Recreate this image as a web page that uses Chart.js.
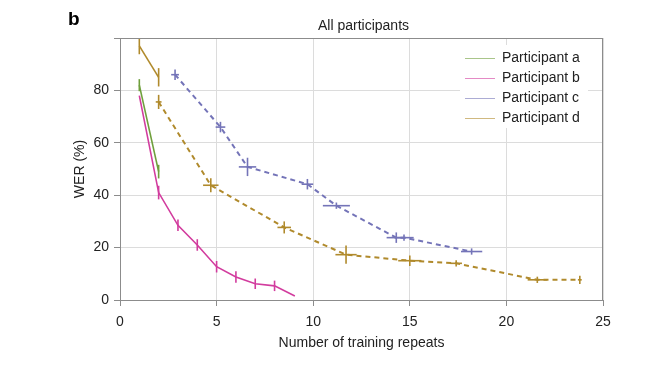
<!DOCTYPE html>
<html>
<head>
<meta charset="utf-8">
<script src="https://cdn.jsdelivr.net/npm/chart.js@4"></script>
<style>
  html, body { margin: 0; padding: 0; background: #fff; }
  #wrap { width: 660px; height: 369px; }
</style>
</head>
<body>
<div id="wrap"><canvas id="myChart" width="660" height="369"></canvas></div>
<script>
// values
const labels = ["Participant a", "Participant b", "Participant c", "Participant d"];

const aX = [1, 2];
const aY = [82, 49];
const aYErr = [2.3, 2.6];

const bX = [1, 2, 3, 4, 5, 6, 7, 8, 9.05];
const bY = [78, 41, 28.5, 21, 12.7, 8.8, 6.2, 5.4, 1.5];
const bYErr = [0, 2.6, 2.2, 2.2, 2.2, 2.2, 2, 2, 0];

const cX = [2.85, 5.2, 6.6, 9.7, 11.2, 14.3, 14.7, 18.2];
const cY = [86, 66, 50.8, 44.2, 36, 23.8, 23.8, 18.5];
const cXErr = [0.2, 0.25, 0.45, 0.3, 0.7, 0.5, 0.5, 0.55];
const cYErr = [2, 2, 3.5, 2, 1.2, 2, 1.2, 1.2];

const dX = [1, 2];
const dY = [97, 85];
const dYErr = [3.2, 3.5];

// later sessions of participant d (dashed)
const d2X = [2, 4.7, 8.5, 11.7, 15, 17.4, 21.6, 23.8];
const d2Y = [75.6, 43.8, 27.7, 17.3, 15, 14, 7.7, 7.7];
const d2XErr = [0.15, 0.4, 0.35, 0.55, 0.6, 0.3, 0.5, 0.1];
const d2YErr = [2.7, 2.7, 2.3, 3.5, 2, 1.2, 1.2, 1.6];

const green = "#6f9f3c";
const pink = "#d23c9e";
const blue = "#7474b8";
const gold = "#b08a2c";

function pts(xs, ys) {
  return xs.map((x, i) => ({ x: x, y: ys[i] }));
}

const datasets = [
  { label: labels[0], data: pts(aX, aY), borderColor: green, yErr: aYErr, borderWidth: 1.6 },
  { label: labels[1], data: pts(bX, bY), borderColor: pink, yErr: bYErr, borderWidth: 1.6 },
  { label: labels[2], data: pts(cX, cY), borderColor: blue, xErr: cXErr, yErr: cYErr, borderWidth: 2, borderDash: [5, 4] },
  { label: labels[3], data: pts(dX, dY), borderColor: gold, yErr: dYErr, borderWidth: 1.6 },
  { label: "", data: pts(d2X, d2Y), borderColor: gold, xErr: d2XErr, yErr: d2YErr, borderWidth: 2, borderDash: [5, 4] }
];
datasets.forEach(ds => { ds.pointRadius = 0; ds.fill = false; ds.tension = 0; });

const font = "'Liberation Sans', Arial, sans-serif";

// error bars + frame + legend + titles
const extras = {
  id: "extras",
  afterDatasetsDraw(chart) {
    const ctx = chart.ctx;
    const xs = chart.scales.x, ys = chart.scales.y;
    const area = chart.chartArea;
    ctx.save();
    ctx.beginPath();
    ctx.rect(area.left, area.top, area.right - area.left, area.bottom - area.top);
    ctx.clip();
    chart.data.datasets.forEach(ds => {
      ctx.strokeStyle = ds.borderColor;
      ctx.lineWidth = 1.6;
      ctx.setLineDash([]);
      ds.data.forEach((p, i) => {
        const px = xs.getPixelForValue(p.x), py = ys.getPixelForValue(p.y);
        if (ds.yErr && ds.yErr[i]) {
          ctx.beginPath();
          ctx.moveTo(px, ys.getPixelForValue(p.y - ds.yErr[i]));
          ctx.lineTo(px, ys.getPixelForValue(p.y + ds.yErr[i]));
          ctx.stroke();
        }
        if (ds.xErr && ds.xErr[i]) {
          ctx.beginPath();
          ctx.moveTo(xs.getPixelForValue(p.x - ds.xErr[i]), py);
          ctx.lineTo(xs.getPixelForValue(p.x + ds.xErr[i]), py);
          ctx.stroke();
        }
      });
    });
    ctx.restore();

    // frame
    ctx.save();
    ctx.strokeStyle = "#8c8c8c";
    ctx.lineWidth = 1;
    ctx.strokeRect(area.left + 0.5, area.top + 0.5, area.right - area.left - 1, area.bottom - area.top);
    ctx.restore();

    // legend
    ctx.save();
    ctx.fillStyle = "#fff";
    ctx.fillRect(460, 45, 128, 83);
    ctx.font = "14px " + font;
    ctx.textBaseline = "middle";
    chart.data.datasets.slice(0, 4).forEach((ds, i) => {
      const y = 58 + i * 20;
      ctx.strokeStyle = ds.borderColor;
      ctx.globalAlpha = 0.6;
      ctx.lineWidth = 1;
      ctx.beginPath();
      ctx.moveTo(465, y + 0.5);
      ctx.lineTo(495, y + 0.5);
      ctx.stroke();
      ctx.globalAlpha = 1;
      ctx.fillStyle = "#222";
      ctx.fillText(ds.label, 502, y);
    });

    // titles
    ctx.fillStyle = "#222";
    ctx.textAlign = "center";
    ctx.fillText("All participants", (area.left + area.right) / 2 + 2, 26);
    ctx.textAlign = "left";
    ctx.textBaseline = "alphabetic";
    ctx.font = "bold 19px " + font;
    ctx.fillStyle = "#000";
    ctx.fillText("b", 68, 25);
    ctx.restore();
  }
};

const ctx = document.getElementById("myChart").getContext("2d");
const myChart = new Chart(ctx, {
  type: "line",
  data: { datasets: datasets },
  plugins: [extras],
  options: {
    responsive: false,
    animation: false,
    layout: { padding: { left: 68, right: 57, top: 38, bottom: 13 } },
    plugins: { legend: { display: false }, tooltip: { enabled: false } },
    scales: {
      x: {
        type: "linear",
        min: 0,
        max: 25,
        afterFit: s => { s.height = 56; },
        ticks: { stepSize: 5, color: "#222", padding: 8, font: { family: font, size: 14 } },
        grid: { color: "#dcdcdc", tickColor: "#8c8c8c", tickLength: 6 },
        border: { color: "#8c8c8c" },
        title: { display: true, text: "Number of training repeats", color: "#222", font: { family: font, size: 14 } }
      },
      y: {
        min: 0,
        max: 100,
        afterFit: s => { s.width = 52; },
        ticks: {
          stepSize: 20,
          color: "#222",
          padding: 5,
          font: { family: font, size: 14 },
          callback: v => (v === 100 ? "" : v)
        },
        grid: { color: "#dcdcdc", tickColor: "#8c8c8c", tickLength: 6 },
        border: { color: "#8c8c8c" },
        title: { display: true, text: "WER (%)", color: "#222", font: { family: font, size: 14 } }
      }
    }
  }
});
</script>
</body>
</html>
